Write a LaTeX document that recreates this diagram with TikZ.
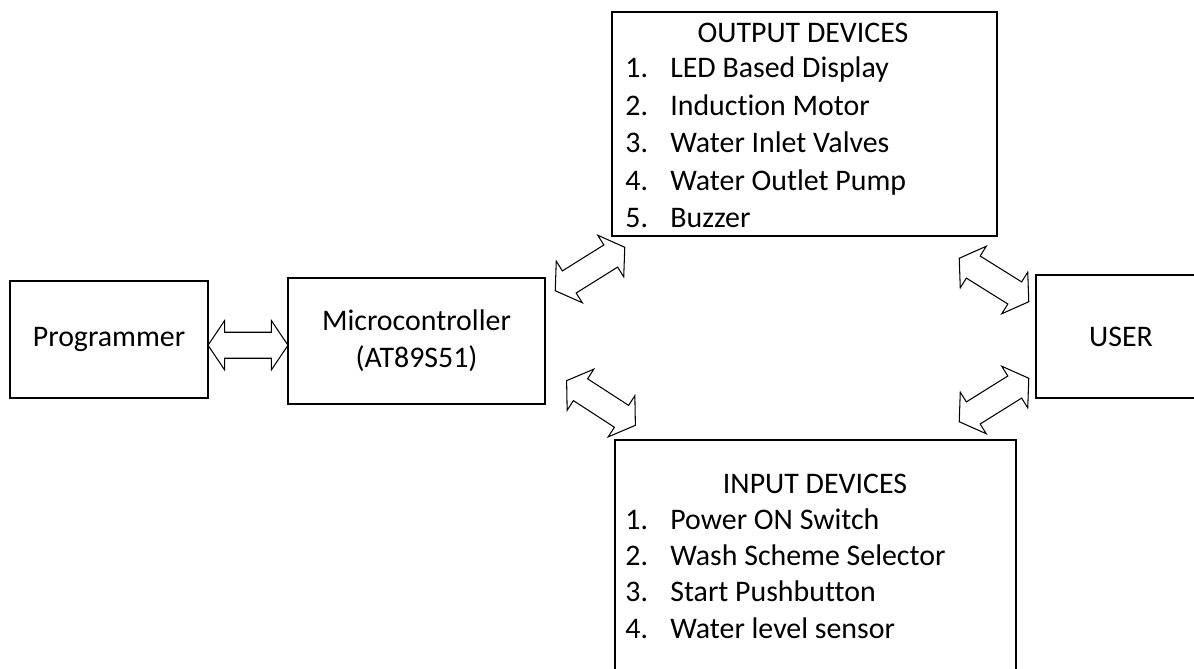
\documentclass[tikz,border=0pt]{standalone}
\usepackage{fontspec}
\setmainfont{Carlito}[Ligatures=NoCommon]
\usetikzlibrary{shapes.arrows,positioning,calc}
\tikzset{
  block/.style={
    draw=black,line width=0.85pt,fill=white,inner sep=0pt
  },
  item text/.style={
    anchor=base west,inner sep=0pt
  },
  dbl arrow/.style={
    double arrow,draw=black,line width=0.6pt,fill=white,
    minimum height=1.64cm,minimum width=0.96cm,
    inner xsep=0pt,inner ysep=0.25cm,
    double arrow head extend=0.23cm,double arrow tip angle=112
  }
}

\begin{document}
\begin{tikzpicture}[x=0.02cm,y=-0.02cm,font=\fontsize{17}{21}\selectfont]
  \useasboundingbox (0,0) rectangle (1194,669);
  \clip (0,0) rectangle (1194,669);

  % blocks
  \node[block,minimum width=3.96cm,minimum height=2.34cm] (prog) at (109,339.5) {Programmer};
  \node[block,minimum width=5.14cm,minimum height=2.52cm,align=center] (mcu) at (416.5,341)
    {Microcontroller\\(AT89S51)};
  \node[block,minimum width=3.4cm,minimum height=2.46cm] (user) at (1121,336.5) {USER};
  \node[block,minimum width=7.7cm,minimum height=4.48cm] (outdev) at (804.5,124) {};
  \node[block,minimum width=8.02cm,minimum height=5.2cm] (indev) at (815.5,570) {};

  % device lists
  \node[anchor=base] (outtitle) at (803,43) {OUTPUT DEVICES};
  \foreach \t [count=\i] in {LED Based Display,Induction Motor,Water Inlet Valves,
      Water Outlet Pump,Buzzer} {
    \node[item text] (outnum\i) at (625,{78+37.4*(\i-1)}) {\i.};
    \node[item text] (outitem\i) at (670,{78+37.4*(\i-1)}) {\t};
  }

  \node[anchor=base] (intitle) at (815,493) {INPUT DEVICES};
  \foreach \t [count=\i] in {Power ON Switch,Wash Scheme Selector,Start Pushbutton,
      Water level sensor} {
    \node[item text] (innum\i) at (625,{493+36.25*\i}) {\i.};
    \node[item text] (initem\i) at (670,{493+36.25*\i}) {\t};
  }

  % two-way links
  \node[dbl arrow,minimum height=1.6cm] (link0) at ($(prog.east)!0.5!(mcu.west)+(0,5)$) {};
  \node[dbl arrow,rotate=32] (link1) at (590,269) {};
  \node[dbl arrow,rotate=-33] (link2) at (601,403) {};
  \node[dbl arrow,rotate=-32] (link3) at (994,280) {};
  \node[dbl arrow,rotate=32] (link4) at (994,400) {};
\end{tikzpicture}
\end{document}
